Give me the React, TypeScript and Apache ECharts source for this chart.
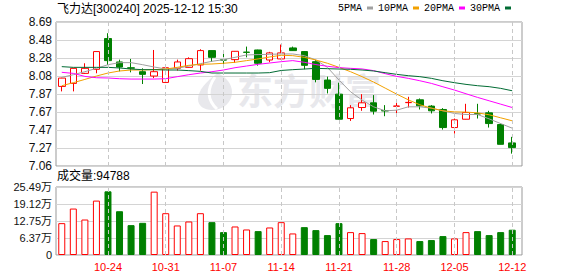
import React, { useEffect, useRef } from 'react';
import * as echarts from 'echarts';

const titleText = '飞力达[300240] 2025-12-12 15:30';

const dates = [
  '10-20', '10-21', '10-22', '10-23', '10-24',
  '10-27', '10-28', '10-29', '10-30', '10-31',
  '11-03', '11-04', '11-05', '11-06', '11-07',
  '11-10', '11-11', '11-12', '11-13', '11-14',
  '11-17', '11-18', '11-19', '11-20', '11-21',
  '11-24', '11-25', '11-26', '11-27', '11-28',
  '12-01', '12-02', '12-03', '12-04', '12-05',
  '12-08', '12-09', '12-10', '12-11', '12-12',
];

const xLabelDates = ['10-24', '10-31', '11-07', '11-14', '11-21', '11-28', '12-05', '12-12'];

// [open, close, low, high]
const ohlc = [
  [7.960, 8.054, 7.904, 8.058],
  [7.994, 8.164, 7.904, 8.168],
  [8.107, 8.164, 8.100, 8.221],
  [8.153, 8.353, 8.108, 8.355],
  [8.500, 8.251, 8.202, 8.560],
  [8.236, 8.179, 8.130, 8.262],
  [8.170, 8.166, 8.119, 8.270],
  [8.126, 8.096, 7.987, 8.164],
  [8.077, 8.126, 8.054, 8.371],
  [8.005, 8.171, 8.002, 8.173],
  [8.164, 8.236, 8.138, 8.262],
  [8.175, 8.273, 8.172, 8.288],
  [8.202, 8.364, 8.138, 8.379],
  [8.364, 8.288, 8.236, 8.366],
  [8.260, 8.257, 8.213, 8.326],
  [8.262, 8.356, 8.224, 8.358],
  [8.347, 8.344, 8.288, 8.409],
  [8.371, 8.221, 8.194, 8.374],
  [8.258, 8.338, 8.233, 8.350],
  [8.270, 8.338, 8.266, 8.432],
  [8.394, 8.364, 8.360, 8.409],
  [8.353, 8.198, 8.153, 8.358],
  [8.239, 8.039, 8.006, 8.258],
  [8.032, 7.938, 7.881, 8.070],
  [7.873, 7.590, 7.588, 8.002],
  [7.598, 7.719, 7.571, 7.749],
  [7.722, 7.775, 7.685, 7.873],
  [7.775, 7.681, 7.643, 7.862],
  [7.687, 7.684, 7.624, 7.749],
  [7.736, 7.739, 7.640, 7.806],
  [7.777, 7.780, 7.722, 7.843],
  [7.809, 7.741, 7.700, 7.824],
  [7.738, 7.685, 7.655, 7.749],
  [7.700, 7.496, 7.473, 7.715],
  [7.496, 7.583, 7.428, 7.598],
  [7.590, 7.666, 7.588, 7.764],
  [7.652, 7.649, 7.598, 7.764],
  [7.662, 7.541, 7.496, 7.685],
  [7.530, 7.307, 7.305, 7.541],
  [7.323, 7.270, 7.202, 7.391],
];

const volumes = [
  119400, 174100, 133000, 203900, 238700, 164100, 111900, 120600, 237500, 156700,
  110700, 125600, 156700, 123100, 85800, 106900, 95700, 89500, 103200, 123100,
  80800, 104400, 93300, 74600, 119400, 85800, 82100, 59700, 52200, 59700,
  62200, 52200, 56000, 70900, 62200, 85800, 89500, 74600, 85800, 94788,
];

// 1 = up (red hollow), 0 = down (green)
const volUp = [
  1, 1, 1, 1, 0, 0, 0, 0, 1, 1,
  1, 1, 1, 0, 0, 1, 1, 0, 1, 1,
  1, 0, 0, 0, 0, 1, 1, 0, 1, 1,
  1, 0, 0, 0, 1, 1, 0, 0, 0, 0,
];

const ma5 = [
  8.062, 8.092, 8.126, 8.164, 8.205, 8.228, 8.228, 8.205, 8.179, 8.156,
  8.164, 8.190, 8.217, 8.243, 8.262, 8.288, 8.315, 8.319, 8.322, 8.326,
  8.326, 8.307, 8.258, 8.175, 8.032, 7.900, 7.806, 7.730, 7.685, 7.692,
  7.730, 7.730, 7.715, 7.685, 7.655, 7.643, 7.643, 7.594, 7.541, 7.489,
];
const ma10 = [
  7.968, 8.002, 8.039, 8.077, 8.111, 8.134, 8.145, 8.145, 8.149, 8.156,
  8.175, 8.198, 8.209, 8.213, 8.221, 8.232, 8.251, 8.270, 8.292, 8.311,
  8.307, 8.288, 8.258, 8.221, 8.175, 8.126, 8.070, 8.009, 7.941, 7.873,
  7.809, 7.753, 7.715, 7.685, 7.673, 7.670, 7.662, 7.640, 7.606, 7.572,
];
const ma20 = [
  8.119, 8.107, 8.073, 8.058, 8.055, 8.047, 8.043, 8.043, 8.043, 8.047,
  8.070, 8.092, 8.111, 8.126, 8.145, 8.171, 8.190, 8.209, 8.224, 8.239,
  8.251, 8.232, 8.206, 8.187, 8.172, 8.164, 8.157, 8.138, 8.104, 8.073,
  8.051, 8.024, 7.994, 7.956, 7.919, 7.877, 7.836, 7.798, 7.760, 7.722,
];
const ma30 = [
  8.183, 8.175, 8.175, 8.175, 8.175, 8.168, 8.156, 8.149, 8.149, 8.145,
  8.145, 8.138, 8.130, 8.111, 8.111, 8.111, 8.111, 8.111, 8.115, 8.140,
  8.149, 8.156, 8.164, 8.160, 8.156, 8.153, 8.145, 8.134, 8.115, 8.096,
  8.081, 8.070, 8.051, 8.024, 8.002, 7.983, 7.968, 7.957, 7.938, 7.911,
];

const maNames = ['5PMA', '10PMA', '20PMA', '30PMA'];
const maColors = ['#a0a0a0', '#f2a100', '#ff00ff', '#006b33'];

const priceTicks = ['7.06', '7.27', '7.47', '7.67', '7.87', '8.08', '8.28', '8.48', '8.69'];
const volTicks = ['0', '6.37万', '12.75万', '19.12万', '25.49万'];

const PRICE_MIN = 7.0625;
const PRICE_MAX = 8.6865;
const VOL_MAX = 254900;

const FONT = '"Liberation Sans", "Noto Sans CJK SC", sans-serif';
const RED = '#ff0000';
const GREEN = '#008000';

echarts.graphic.registerShape(
  'emLogo',
  echarts.graphic.extendPath(
    'M20 0 C8 8 0 18 0 26 C0 33 6 37 14 37 C26 37 34 29 34 19 C34 11 28 4 20 0 Z',
    {}
  )
);

export default function App() {
  const ref = useRef<HTMLDivElement>(null);

  useEffect(() => {
    const chart = echarts.init(ref.current as HTMLDivElement, null, { renderer: 'svg' });

    const dashedMarkLine = {
      silent: true,
      symbol: ['none', 'none'],
      label: { show: false },
      lineStyle: { color: '#c8c8c8', type: [4, 3], width: 1 },
      emphasis: { disabled: true },
      data: xLabelDates.map((d) => ({ xAxis: d })),
    };

    const maSeries = [ma5, ma10, ma20, ma30].map((arr, k) => ({
      type: 'line',
      name: maNames[k],
      xAxisIndex: 0,
      yAxisIndex: 0,
      data: arr,
      symbol: 'none',
      showSymbol: false,
      color: maColors[k],
      lineStyle: { width: 1, color: maColors[k] },
      z: 4,
      silent: true,
    }));

    const option: any = {
      animation: false,
      title: {
        text: titleText,
        left: 57,
        top: 3,
        padding: 0,
        textStyle: { fontSize: 12, fontWeight: 'normal', color: '#000', fontFamily: FONT },
      },
      legend: {
        data: maNames,
        right: 67,
        top: 3,
        padding: 0,
        align: 'right',
        icon: 'rect',
        itemWidth: 6,
        itemHeight: 3,
        itemGap: 5,
        selectedMode: false,
        textStyle: { fontFamily: '"Liberation Mono", monospace', fontSize: 10, color: '#000' },
      },
      grid: [
        { left: 56, top: 22, width: 462, height: 144, show: false },
        { left: 56, top: 187, width: 462, height: 68, show: false },
        { left: 56, right: 56, top: 22, height: 144, show: true, borderColor: '#999', borderWidth: 1 },
        { left: 56, right: 56, top: 187, height: 68, show: true, borderColor: '#999', borderWidth: 1 },
      ],
      xAxis: [
        {
          type: 'category', gridIndex: 0, data: dates, boundaryGap: true,
          axisLine: { show: false }, axisTick: { show: false }, axisLabel: { show: false }, splitLine: { show: false },
        },
        {
          type: 'category', gridIndex: 1, data: dates, boundaryGap: true,
          axisLine: { show: false }, axisTick: { show: false }, splitLine: { show: false },
          axisLabel: {
            interval: (_i: number, v: string) => xLabelDates.includes(v),
            color: RED, fontSize: 11, fontFamily: FONT, margin: 6,
          },
        },
        { type: 'value', gridIndex: 2, min: 0, max: 1, show: false },
        { type: 'value', gridIndex: 3, min: 0, max: 1, show: false },
      ],
      yAxis: [
        { type: 'value', gridIndex: 0, min: PRICE_MIN, max: PRICE_MAX, show: false },
        { type: 'value', gridIndex: 1, min: 0, max: VOL_MAX, show: false },
        {
          type: 'value', gridIndex: 2, min: 0, max: priceTicks.length - 1, interval: 1,
          axisLine: { show: false }, axisTick: { show: false },
          splitLine: { show: true, lineStyle: { color: '#d4d4d4', width: 1 } },
          axisLabel: {
            formatter: (v: number) => priceTicks[Math.round(v)],
            fontSize: 12, color: '#111', margin: 4, fontFamily: FONT,
          },
        },
        {
          type: 'value', gridIndex: 3, min: 0, max: volTicks.length - 1, interval: 1,
          axisLine: { show: false }, axisTick: { show: false },
          splitLine: { show: true, lineStyle: { color: '#d4d4d4', width: 1 } },
          axisLabel: {
            formatter: (v: number) => volTicks[Math.round(v)],
            fontSize: 11, color: '#111', margin: 4,
            fontFamily: '"Liberation Sans Narrow", "Liberation Sans", "Noto Sans CJK SC", sans-serif',
          },
        },
      ],
      graphic: [
        {
          type: 'emLogo', x: 198, y: 73, scaleX: 1, scaleY: 1, z: 0, silent: true,
          style: { fill: '#e8e8ec' },
        },
        {
          type: 'bezierCurve', z: 0, silent: true,
          shape: { x1: 215, y1: 77, cpx1: 206, cpy1: 90, cpx2: 208, cpy2: 101, x2: 217, y2: 109 },
          style: { stroke: '#ffffff', lineWidth: 3, fill: null },
        },
        {
          type: 'text', left: 237, top: 71, z: 0, silent: true,
          style: {
            text: '东方财富', fill: '#e8e8ec', fontSize: 36, fontWeight: 'bold',
            fontFamily: '"Noto Sans CJK SC", sans-serif',
          },
        },
        {
          type: 'text', left: 57, top: 170, silent: true,
          style: {
            text: `成交量:${volumes[volumes.length - 1]}`,
            fill: '#000', fontSize: 12, fontFamily: FONT,
          },
        },
      ],
      series: [
        {
          type: 'candlestick',
          xAxisIndex: 0,
          yAxisIndex: 0,
          data: ohlc,
          barWidth: 7,
          z: 3,
          itemStyle: {
            color: '#ffffff', color0: GREEN,
            borderColor: RED, borderColor0: GREEN, borderWidth: 1,
          },
          markLine: dashedMarkLine,
        },
        ...maSeries,
        {
          type: 'bar',
          xAxisIndex: 1,
          yAxisIndex: 1,
          barWidth: 7,
          z: 3,
          data: volumes.map((v, i) => ({
            value: v,
            itemStyle: volUp[i]
              ? { color: '#ffffff', borderColor: RED, borderWidth: 1 }
              : { color: GREEN, borderColor: GREEN, borderWidth: 1 },
          })),
          markLine: dashedMarkLine,
        },
      ],
    };

    chart.setOption(option);
    return () => chart.dispose();
  }, []);

  return (
    <div
      ref={ref}
      style={{ position: 'absolute', left: 0, top: 0, width: 578, height: 276 }}
    />
  );
}
